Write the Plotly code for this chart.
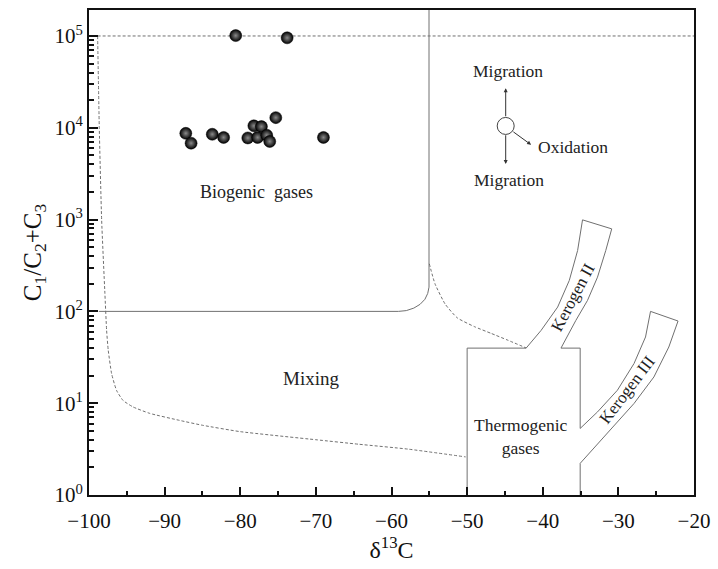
import plotly.graph_objects as go

# ---- sample data (d13C of methane, C1/(C2+C3)) ----
d13c = [-80.6, -73.8, -87.2, -86.5, -83.7, -82.2, -79.0, -78.2, -77.2, -77.7, -76.5, -76.1, -75.3, -69.0]
ratio = [101000, 95500, 8700, 6800, 8500, 7850, 7750, 10500, 10300, 7850, 8300, 7100, 12900, 7850]

# ---- diagram boundaries ----
# biogenic field boundary (solid)
bio_x = [-98.7, -59.08, -58.04, -57.05, -56.22, -55.58, -55.21, -55.04, -55.04]
bio_y = [100, 100, 102, 108.6, 119.4, 135.5, 157, 183.7, 192000]
# mixing curve lower (dashed)
mixA_x = [-98.86, -98.64, -98.33, -97.9, -97.67, -97.46, -97.01, -96.36, -95.49, -94.17, -91.97, -88.03, -85.0, -80.0, -70.0, -64.3, -57.8, -50.2]
mixA_y = [100000, 10000, 1000, 158, 62, 38, 21, 13.8, 10.7, 9.1, 7.75, 6.5, 5.75, 4.9, 4.0, 3.57, 3.16, 2.6]
# mixing curve upper (dashed)
mixB_x = [-55.0, -54.25, -52.9, -51.3, -49.0, -46.8, -44.6, -42.2]
mixB_y = [330, 200, 120, 85, 68, 57.5, 48.5, 40]
# 1e5 dashed line
top_x = [-98.86, -20]
top_y = [100000, 100000]
# thermogenic field with kerogen II / III bands (solid)
th_x = [-50.0, -50.0, -42.2, -40.22, -38.03, -36.49, -35.39, -34.74, -30.88, -31.67, -32.76, -34.08, -35.62, -37.59,
        -35.05, -35.05, -32.76, -30.13, -27.93, -26.41, -25.75, -22.11, -23.33, -25.3, -27.93, -31.45, -35.05, -35.05]
th_ylog = [0.0, 1.6, 1.6, 1.793, 2.047, 2.337, 2.663, 2.997, 2.899, 2.663, 2.373, 2.12, 1.902, 1.6,
           1.6, 0.725, 0.905, 1.141, 1.432, 1.721, 2.0, 1.895, 1.612, 1.286, 0.997, 0.671, 0.345, 0.0]
th_y = [10 ** v for v in th_ylog]

x_ticks = [-100, -90, -80, -70, -60, -50, -40, -30, -20]
x_labels = ["\u2212100", "\u221290", "\u221280", "\u221270", "\u221260", "\u221250", "\u221240", "\u221230", "\u221220"]
x_minor = [-95, -85, -75, -65, -55, -45, -35, -25]
y_ticks = [1, 10, 100, 1000, 10000, 100000]
y_labels = ["10<sup>0</sup>", "10<sup>1</sup>", "10<sup>2</sup>", "10<sup>3</sup>", "10<sup>4</sup>", "10<sup>5</sup>"]
y_minor = [m * d for d in [1, 10, 100, 1000, 10000, 100000] for m in [2, 3, 4, 5, 6, 7, 8, 9] if m * d < 192000]

LINE = "#707070"
FONT = "Liberation Serif"

fig = go.Figure()
solid = dict(color=LINE, width=1)
dashed = dict(color=LINE, width=1, dash="3px,2px")
fig.add_trace(go.Scatter(x=top_x, y=top_y, mode="lines", line=dashed, hoverinfo="skip"))
fig.add_trace(go.Scatter(x=mixA_x, y=mixA_y, mode="lines", line=dict(dashed, shape="spline", smoothing=0.5), hoverinfo="skip"))
fig.add_trace(go.Scatter(x=mixB_x, y=mixB_y, mode="lines", line=dict(dashed, shape="spline", smoothing=0.5), hoverinfo="skip"))
fig.add_trace(go.Scatter(x=bio_x, y=bio_y, mode="lines", line=solid, hoverinfo="skip"))
fig.add_trace(go.Scatter(x=th_x, y=th_y, mode="lines", line=solid, hoverinfo="skip"))

# migration / oxidation circle
fig.add_trace(go.Scatter(x=[-44.9], y=[10 ** 4.02], mode="markers",
                         marker=dict(symbol="circle-open", size=17, color="#444", line=dict(width=1)),
                         hoverinfo="skip"))

# samples
fig.add_trace(go.Scatter(x=d13c, y=ratio, mode="markers",
                         marker=dict(size=12, color="#000000",
                                     gradient=dict(type="radial", color="#8a8a8a"),
                                     line=dict(width=0.5, color="#000")),
                         hoverinfo="skip"))

ann = []
def txt(x, ylog, s, size=17.5, angle=0):
    ann.append(dict(x=x, y=ylog, xref="x", yref="y", text=s, showarrow=False,
                    font=dict(family=FONT, size=size, color="#222"), textangle=angle))

txt(-77.8, 3.3, "Biogenic&nbsp;&nbsp;gases", size=18)
txt(-70.7, 1.27, "Mixing", size=19)
txt(-42.9, 0.64, "Thermogenic<br>gases", size=17.5)
txt(-44.6, 4.62, "Migration")
txt(-44.4, 3.43, "Migration")
txt(-36.05, 3.79, "Oxidation")
txt(-36.0, 2.15, "Kerogen II", size=17, angle=-62)
txt(-28.8, 1.15, "Kerogen III", size=17, angle=-53)

def arrow(x0, y0, x1, y1):
    ann.append(dict(x=x1, y=y1, ax=x0, ay=y0, xref="x", yref="y", axref="x", ayref="y",
                    text="", showarrow=True, arrowhead=2, arrowsize=0.8, arrowwidth=1, arrowcolor="#333"))

arrow(-44.9, 4.109, -44.9, 4.432)
arrow(-44.9, 3.935, -44.9, 3.605)
arrow(-44.08, 3.967, -41.54, 3.815)

fig.update_layout(
    width=718, height=569,
    margin=dict(l=89, r=21, t=8, b=74),
    paper_bgcolor="white", plot_bgcolor="white",
    showlegend=False,
    annotations=ann,
    font=dict(family=FONT, color="#111"),
    xaxis=dict(range=[-100, -20], tickmode="array", tickvals=x_ticks, ticktext=x_labels,
               ticks="inside", ticklen=8, tickwidth=1.5, tickcolor="#111",
               minor=dict(ticks="inside", ticklen=4, tickwidth=1.5, tickmode="array", tickvals=x_minor, tickcolor="#111"),
               showline=True, linewidth=1.8, linecolor="#111", mirror=True,
               showgrid=False, zeroline=False, ticklabelstandoff=6,
               tickfont=dict(family=FONT, size=21, color="#111"),
               title=dict(text="\u03b4<sup>13</sup>C", font=dict(family=FONT, size=24, color="#111"), standoff=4)),
    yaxis=dict(type="log", range=[0, 5.283], tickmode="array", tickvals=y_ticks, ticktext=y_labels,
               ticks="inside", ticklen=9, tickwidth=1.5, tickcolor="#111",
               minor=dict(ticks="inside", ticklen=5, tickwidth=1.5, tickmode="array", tickvals=y_minor, tickcolor="#111"),
               showline=True, linewidth=1.8, linecolor="#111", mirror=True,
               showgrid=False, zeroline=False,
               tickfont=dict(family=FONT, size=21, color="#111"),
               title=dict(text="C<sub>1</sub>/C<sub>2</sub>+C<sub>3</sub>", font=dict(family=FONT, size=25, color="#111"), standoff=6)),
)

fig.write_html("out.html")
